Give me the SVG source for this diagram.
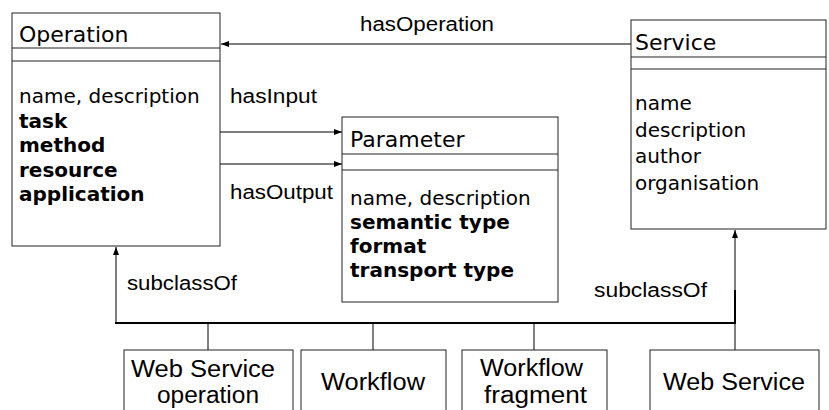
<svg xmlns="http://www.w3.org/2000/svg" width="829" height="410" viewBox="0 0 829 410">
<style>
.box{fill:#fff;stroke:#222;stroke-width:1}
.sep{stroke:#222;stroke-width:1}
.title{font-family:"DejaVu Sans",Verdana,sans-serif;font-size:22px;fill:#000}
.attr{font-family:"DejaVu Sans",Verdana,sans-serif;font-size:20px;fill:#000}
.b{font-weight:bold}
.lbl{font-family:"Liberation Sans",Arial,sans-serif;font-size:20px;fill:#000}
.big{font-family:"Liberation Sans",Arial,sans-serif;font-size:23px;fill:#000}
.con{fill:none;stroke:#000;stroke-width:1}
.thick{fill:none;stroke:#000;stroke-width:2}
</style>
<defs>
<marker id="ah" viewBox="0 0 8 6" refX="8" refY="3" markerWidth="8" markerHeight="6" markerUnits="userSpaceOnUse" orient="auto">
<path d="M0,0 L8,3 L0,6 z" fill="#000"/>
</marker>
</defs>
<rect width="829" height="410" fill="#fff"/>

<g id="connectors">
<line class="con" x1="631" y1="44" x2="221" y2="44" marker-end="url(#ah)"/>
<line class="con" x1="220" y1="132" x2="342" y2="132" marker-end="url(#ah)"/>
<line class="con" x1="220" y1="164" x2="342" y2="164" marker-end="url(#ah)"/>
<line class="con" x1="116" y1="323" x2="116" y2="247" marker-end="url(#ah)"/>
<line class="thick" x1="115" y1="323" x2="736" y2="323"/>
<line class="con" x1="208" y1="323" x2="208" y2="350"/>
<line class="con" x1="373" y1="323" x2="373" y2="350"/>
<line class="con" x1="534" y1="323" x2="534" y2="350"/>
<line class="con" x1="735" y1="350" x2="735" y2="230" marker-end="url(#ah)"/>
<line class="thick" x1="735" y1="290" x2="735" y2="324"/>
<text class="lbl" x="360" y="31" textLength="134" lengthAdjust="spacingAndGlyphs">hasOperation</text>
<text class="lbl" x="230" y="103" textLength="87" lengthAdjust="spacingAndGlyphs">hasInput</text>
<text class="lbl" x="230" y="199" textLength="103" lengthAdjust="spacingAndGlyphs">hasOutput</text>
<text class="lbl" x="127" y="290" textLength="110" lengthAdjust="spacingAndGlyphs">subclassOf</text>
<text class="lbl" x="594" y="297" textLength="113" lengthAdjust="spacingAndGlyphs">subclassOf</text>
</g>

<g id="operation">
<rect class="box" x="12" y="13" width="208" height="233"/>
<line class="sep" x1="12" y1="48" x2="220" y2="48"/>
<line class="sep" x1="12" y1="61" x2="220" y2="61"/>
<text class="title" x="19" y="42">Operation</text>
<text class="attr" x="19" y="103">name, description</text>
<text class="attr b" x="19" y="128">task</text>
<text class="attr b" x="19" y="152">method</text>
<text class="attr b" x="19" y="177">resource</text>
<text class="attr b" x="19" y="201">application</text>
</g>

<g id="parameter">
<rect class="box" x="342" y="117" width="216" height="185"/>
<line class="sep" x1="342" y1="154" x2="558" y2="154"/>
<line class="sep" x1="342" y1="170" x2="558" y2="170"/>
<text class="title" x="350" y="147">Parameter</text>
<text class="attr" x="350" y="205">name, description</text>
<text class="attr b" x="350" y="229">semantic type</text>
<text class="attr b" x="350" y="253">format</text>
<text class="attr b" x="350" y="277">transport type</text>
</g>

<g id="service">
<rect class="box" x="631" y="20" width="195" height="209"/>
<line class="sep" x1="631" y1="57" x2="826" y2="57"/>
<line class="sep" x1="631" y1="69" x2="826" y2="69"/>
<text class="title" x="635" y="50">Service</text>
<text class="attr" x="635" y="110">name</text>
<text class="attr" x="635" y="137">description</text>
<text class="attr" x="635" y="163">author</text>
<text class="attr" x="635" y="190">organisation</text>
</g>

<g id="ws-operation">
<rect class="box" x="124" y="350" width="169" height="80"/>
<text class="big" x="131" y="377" textLength="144" lengthAdjust="spacingAndGlyphs">Web Service</text>
<text class="big" x="157" y="403" textLength="102" lengthAdjust="spacingAndGlyphs">operation</text>
</g>

<g id="workflow">
<rect class="box" x="301" y="350" width="145" height="80"/>
<text class="big" x="321" y="390" textLength="104" lengthAdjust="spacingAndGlyphs">Workflow</text>
</g>

<g id="workflow-fragment">
<rect class="box" x="462" y="350" width="145" height="80"/>
<text class="big" x="480" y="376" textLength="103" lengthAdjust="spacingAndGlyphs">Workflow</text>
<text class="big" x="484" y="403" textLength="103" lengthAdjust="spacingAndGlyphs">fragment</text>
</g>

<g id="web-service">
<rect class="box" x="650" y="350" width="169" height="80"/>
<text class="big" x="663" y="390" textLength="142" lengthAdjust="spacingAndGlyphs">Web Service</text>
</g>
</svg>
